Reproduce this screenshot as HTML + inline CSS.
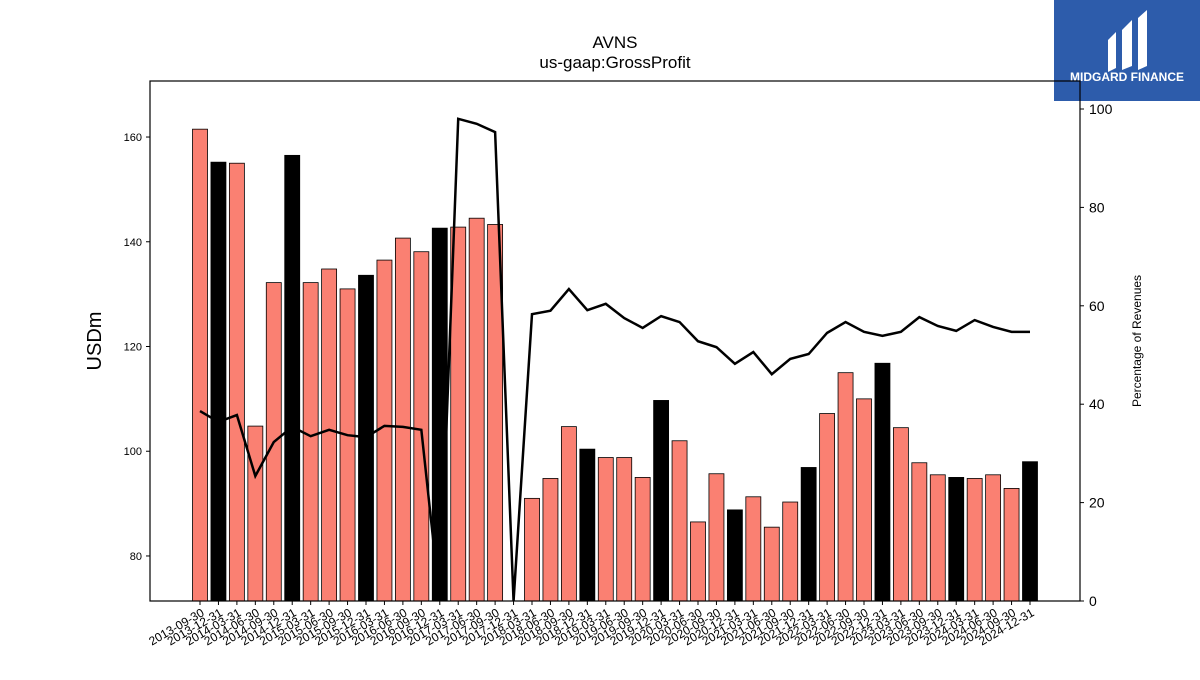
<!DOCTYPE html>
<html><head><meta charset="utf-8"><style>
body{margin:0;background:#fff;width:1200px;height:675px;overflow:hidden;font-family:"Liberation Sans",sans-serif}
</style></head><body>
<svg width="1200" height="675" xmlns="http://www.w3.org/2000/svg" id="chart">
<rect width="1200" height="675" fill="#fff"/>
<text x="615" y="48" text-anchor="middle" font-size="17">AVNS</text>
<text x="615" y="68" text-anchor="middle" font-size="17">us-gaap:GrossProfit</text>
<g>
<rect x="1054" y="0" width="146" height="101" fill="#2d5cab"/>
<path d="M1108 40 L1116 32 L1116 68 L1108 72 Z M1122 30 L1132 20 L1132 66 L1122 70 Z M1138 18 L1147 10 L1147 66 L1138 70 Z" fill="#fff"/>
<text x="1127" y="81" text-anchor="middle" font-size="12" font-weight="bold" fill="#fff">MIDGARD FINANCE</text>
</g>
<g id="plot"></g>
<text transform="translate(101,341) rotate(-90)" text-anchor="middle" font-size="20">USDm</text>
<text transform="translate(1141,341) rotate(-90)" text-anchor="middle" font-size="12">Percentage of Revenues</text>
</svg>
<script>
const categories=["2013-09-30","2013-12-31","2014-03-31","2014-06-30","2014-09-30","2014-12-31","2015-03-31","2015-06-30","2015-09-30","2015-12-31","2016-03-31","2016-06-30","2016-09-30","2016-12-31","2017-03-31","2017-06-30","2017-09-30","2017-12-31","2018-03-31","2018-06-30","2018-09-30","2018-12-31","2019-03-31","2019-06-30","2019-09-30","2019-12-31","2020-03-31","2020-06-30","2020-09-30","2020-12-31","2021-03-31","2021-06-30","2021-09-30","2021-12-31","2022-03-31","2022-06-30","2022-09-30","2022-12-31","2023-03-31","2023-06-30","2023-09-30","2023-12-31","2024-03-31","2024-06-30","2024-09-30","2024-12-31"];
const grossProfit=[161.5,155.2,155,104.8,132.2,156.5,132.2,134.8,131,133.6,136.5,140.7,138.1,142.6,142.8,144.5,143.3,null,91,94.8,104.7,100.4,98.8,98.8,95,109.7,102,86.5,95.7,88.8,91.3,85.5,90.3,96.9,107.2,115,110,116.8,104.5,97.8,95.5,95,94.8,95.5,92.9,98];
const pctRevenue=[38.6,36.4,37.8,25.4,32.3,35.4,33.5,34.8,33.7,33.3,35.6,35.4,34.8,0,98,97,95.3,0,58.3,59,63.4,59.1,60.4,57.5,55.5,57.9,56.7,52.8,51.6,48.2,50.6,46.1,49.2,50.2,54.5,56.7,54.7,53.9,54.7,57.7,55.9,54.9,57.1,55.7,54.7,54.7];
const leftTicks=[80,100,120,140,160];
const rightTicks=[0,20,40,60,80,100];
const L=150,R=1080,T=81,B=601;
const yMin=71.4,yMax=170.7;
const y=v=>B-(v-yMin)/(yMax-yMin)*(B-T);
const y2=v=>601-v*4.92;
const x=i=>200+i*(830/(categories.length-1));
const NS="http://www.w3.org/2000/svg";
const g=document.getElementById('plot');
function mk(t,a,p){const e=document.createElementNS(NS,t);for(const k in a)e.setAttribute(k,a[k]);(p||g).appendChild(e);return e;}
grossProfit.forEach((v,i)=>{
 if(v===null)return;
 const q4=categories[i].endsWith("12-31");
 const r=mk('rect',{x:x(i)-7.5,y:y(v),width:15,height:B-y(v),fill:q4?'#000':'#fa8072',stroke:'#000','stroke-width':0.8});
 
 
});
const pts=pctRevenue.map((v,i)=>x(i)+','+y2(v)).join(' ');
const ln=mk('polyline',{points:pts,fill:'none',stroke:'#000','stroke-width':2.5});


const fr=mk('rect',{x:L,y:T,width:R-L,height:B-T,fill:'none',stroke:'#000','stroke-width':1.2});


leftTicks.forEach(v=>{
 mk('line',{x1:L-4,x2:L,y1:y(v),y2:y(v),stroke:'#000'});
 const t=mk('text',{x:L-8,y:y(v)+4,'text-anchor':'end','font-size':11});t.textContent=v;
 
 
});
rightTicks.forEach(v=>{
 mk('line',{x1:R,x2:R+4,y1:y2(v),y2:y2(v),stroke:'#000'});
 const t=mk('text',{x:R+9,y:y2(v)+5,'font-size':14});t.textContent=v;
 
 
});
categories.forEach((c,i)=>{
 mk('line',{x1:x(i),x2:x(i),y1:B,y2:B+4,stroke:'#000'});
 const t=mk('text',{'text-anchor':'end','font-size':12,transform:`translate(${x(i)+5},${B+14}) rotate(-30)`});t.textContent=c;
 
 
});
</script>
</body></html>
